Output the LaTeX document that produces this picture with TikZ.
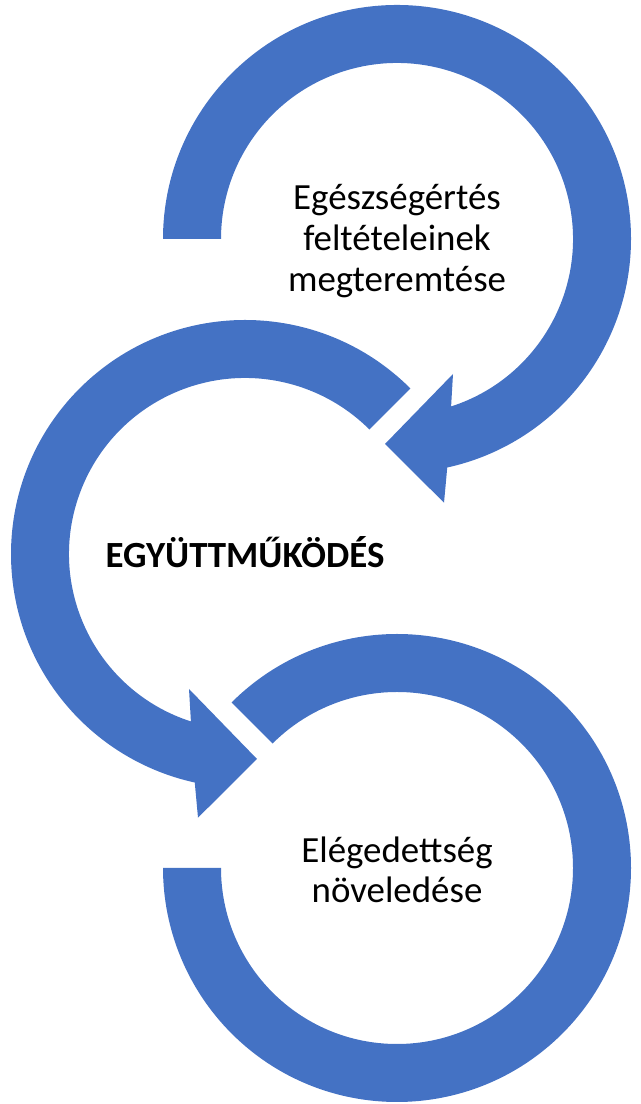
\documentclass[tikz,border=0pt]{standalone}
\usepackage{xcolor}
\usepackage{fontspec}
\setmainfont{Carlito}
\usepackage{tikz}
\usetikzlibrary{calc}
\definecolor{officeblue}{RGB}{68,114,196}
\tikzstyle{band} = [fill=officeblue, draw=none]
\tikzstyle{label} = [align=center, text=black, font=\fontsize{21}{23.1}\selectfont]

\begin{document}
\begin{tikzpicture}[x=0.02cm, y=0.02cm]
    \useasboundingbox (0,0) rectangle (641,1104);
    % Centres
    \coordinate (c1) at (397,865);
    \coordinate (c2) at (245,550);
    \coordinate (c3) at (397,236);

    % Arrows
    \fill[band] ($(c1)+(180:234)$) arc[start angle=180, end angle=-77.6, radius=234]
        -- ($(c1)+(47,-263.7)$) -- ($(c1)+(-12,-205)$) -- ($(c1)+(56,-135)$)
        -- ($(c1)+(-72.1:176)$) arc[start angle=-72.1, end angle=180, radius=176] -- cycle;
    \fill[band] ($(c2)+(45:234)$) arc[start angle=45, end angle=257.6, radius=234]
        -- ($(c2)+(-47,-263.7)$) -- ($(c2)+(12,-205)$) -- ($(c2)+(-56,-135)$)
        -- ($(c2)+(252.1:176)$) arc[start angle=252.1, end angle=45, radius=176] -- cycle;
    \fill[band] ($(c3)+(135:234)$) arc[start angle=135, end angle=-180, radius=234]
        -- ($(c3)+(-180:176)$) arc[start angle=-180, end angle=135, radius=176] -- cycle;

    % Labels
    \node[label] (health) at ($(c1)+(0,-2)$) {Egészségértés\\feltételeinek\\megteremtése};
    \node[label, font=\fontsize{21}{23.1}\selectfont\bfseries] (coop) at ($(c2)+(0,2)$) {EGYÜTTMŰKÖDÉS};
    \node[label] (satisf) at ($(c3)+(0,-2)$) {Elégedettség\\növeledése};
\end{tikzpicture}
\end{document}
